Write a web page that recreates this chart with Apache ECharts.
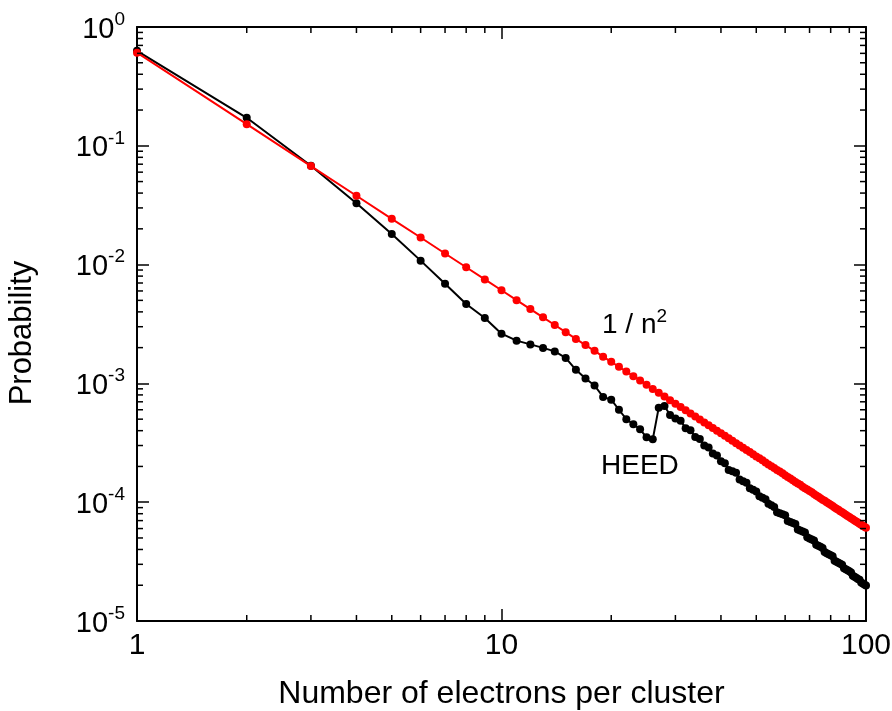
<!DOCTYPE html>
<html>
<head>
<meta charset="utf-8">
<script src="https://cdn.jsdelivr.net/npm/echarts@6/dist/echarts.min.js"></script>
<style>html,body{margin:0;padding:0;background:#fff}#c{width:892px;height:711px}</style>
</head>
<body>
<div id="c"></div>
<script>
// cluster size n
const clusterSize = [1,2,3,4,5,6,7,8,9,10,11,12,13,14,15,16,17,18,19,20,21,22,23,24,25,26,27,28,29,30,31,32,33,34,35,36,37,38,39,40,41,42,43,44,45,46,47,48,49,50,51,52,53,54,55,56,57,58,59,60,61,62,63,64,65,66,67,68,69,70,71,72,73,74,75,76,77,78,79,80,81,82,83,84,85,86,87,88,89,90,91,92,93,94,95,96,97,98,99,100];
// HEED probability
const heedProb = [0.63,0.172,0.068,0.0328,0.0181,0.0108,0.0069,0.00466,0.00355,0.00262,
  0.00229,0.00213,0.00199,0.00186,0.00164,0.0013,0.0011,0.00096,0.00077,0.00073,
  0.00060,0.00050,0.000453,0.000411,0.000352,0.000338,0.000625,0.000645,0.000542,0.000506,
  0.000486,0.000420,0.000404,0.000354,0.000340,0.000300,0.000288,0.000257,0.000247,0.000221,
  0.000213,0.000187,0.000182,0.000177,0.000155,0.000150,0.000146,0.000131,0.000127,0.000123,
  0.000112,0.000109,0.000106,9.69e-5,9.41e-5,9.13e-5,8.24e-5,8.08e-5,7.92e-5,7.76e-5,
  6.94e-5,6.81e-5,6.67e-5,6.54e-5,5.89e-5,5.78e-5,5.66e-5,5.55e-5,5.06e-5,4.96e-5,
  4.86e-5,4.76e-5,4.38e-5,4.29e-5,4.21e-5,4.12e-5,3.80e-5,3.72e-5,3.65e-5,3.58e-5,
  3.50e-5,3.22e-5,3.16e-5,3.10e-5,3.04e-5,2.98e-5,2.78e-5,2.72e-5,2.67e-5,2.62e-5,
  2.56e-5,2.40e-5,2.36e-5,2.31e-5,2.26e-5,2.22e-5,2.11e-5,2.07e-5,2.03e-5,1.99e-5];
// 1/n^2 reference
const invSquareProb = [0.608,0.152,0.0675,0.0380,0.0243,0.0169,0.0124,0.00950,0.00750,0.00608,
  0.00502,0.00422,0.00360,0.00310,0.00270,0.00237,0.00210,0.00188,0.00168,0.00152,
  0.00138,0.00126,0.00115,0.00106,0.000973,0.000899,0.000834,0.000775,0.000723,0.000675,
  0.000633,0.000594,0.000558,0.000526,0.000496,0.000469,0.000444,0.000421,0.000400,0.000380,
  0.000362,0.000345,0.000329,0.000314,0.000300,0.000287,0.000275,0.000264,0.000253,0.000243,
  0.000234,0.000225,0.000216,0.000208,0.000201,0.000194,0.000187,0.000181,0.000175,0.000169,
  0.000163,0.000158,0.000153,0.000148,0.000144,0.000140,0.000135,0.000131,0.000128,0.000124,
  0.000121,0.000117,0.000114,0.000111,0.000108,0.000105,0.000103,9.99e-5,9.74e-5,9.50e-5,
  9.27e-5,9.04e-5,8.82e-5,8.62e-5,8.41e-5,8.22e-5,8.03e-5,7.85e-5,7.67e-5,7.50e-5,
  7.34e-5,7.18e-5,7.03e-5,6.88e-5,6.74e-5,6.60e-5,6.46e-5,6.33e-5,6.20e-5,6.08e-5];
const xMinorTicks = [2,3,4,5,6,7,8,9,20,30,40,50,60,70,80,90];
const yMinorTicks = [2e-5,3e-5,4e-5,5e-5,6e-5,7e-5,8e-5,9e-5,2e-4,3e-4,4e-4,5e-4,6e-4,7e-4,8e-4,9e-4,
  2e-3,3e-3,4e-3,5e-3,6e-3,7e-3,8e-3,9e-3,0.02,0.03,0.04,0.05,0.06,0.07,0.08,0.09,0.2,0.3,0.4,0.5,0.6,0.7,0.8,0.9];
const seriesNames = ['HEED','1 / n²'];

(function(){
const FONT = 'Liberation Sans, Arial, sans-serif';
const chart = echarts.init(document.getElementById('c'), null, {renderer:'canvas'});
const pairs = (ys) => clusterSize.map((x,i)=>[x, ys[i]]);
const axisCommon = {
  type:'log', logBase:10, splitLine:{show:false},
  axisLine:{show:true, lineStyle:{color:'#000', width:2}},
  axisTick:{show:true, inside:true, length:12, lineStyle:{color:'#000', width:1.5}},
};
const option = {
  animation:false,
  backgroundColor:'#fff',
  grid:{left:137, right:26, top:27, bottom:90, containLabel:false, outerBoundsMode:'none'},
  xAxis:[
    Object.assign({}, axisCommon, {min:1, max:100, position:'bottom',
      name:'Number of electrons per cluster', nameLocation:'middle', nameGap:57,
      nameTextStyle:{fontFamily:FONT, fontSize:32, color:'#000'},
      axisLabel:{margin:10, fontFamily:FONT, fontSize:30, color:'#000',
        formatter:(v)=>String(Math.round(v))}}),
    Object.assign({}, axisCommon, {min:1, max:100, position:'top', axisLabel:{show:false}})
  ],
  yAxis:[
    Object.assign({}, axisCommon, {min:1e-5, max:1, position:'left',
      name:'Probability', nameLocation:'middle', nameGap:99,
      nameTextStyle:{fontFamily:FONT, fontSize:31, color:'#000', padding:[0,18,0,0]},
      axisLabel:{margin:12, fontFamily:FONT, color:'#000',
        formatter:(v)=>'{b|10}{s|' + Math.round(Math.log10(v)) + '}',
        rich:{b:{fontFamily:FONT, fontSize:29, color:'#000', lineHeight:34, verticalAlign:'bottom'},
              s:{fontFamily:FONT, fontSize:19, color:'#000', lineHeight:34, verticalAlign:'top'}}}}),
    Object.assign({}, axisCommon, {min:1e-5, max:1, position:'right', axisLabel:{show:false}})
  ],
  series:[
    {name:seriesNames[0], type:'line', data:pairs(heedProb), symbol:'circle', symbolSize:8,
     lineStyle:{color:'#000', width:2}, itemStyle:{color:'#000'}, z:3},
    {name:seriesNames[1], type:'line', data:pairs(invSquareProb), symbol:'circle', symbolSize:8,
     lineStyle:{color:'#ff0000', width:2}, itemStyle:{color:'#ff0000'}, z:4}
  ]
};
chart.setOption(option);

// minor ticks on all four sides, positioned through the axes' own scales
const g = [];
const x0 = chart.convertToPixel({xAxisIndex:0}, 1), x1 = chart.convertToPixel({xAxisIndex:0}, 100);
const y0 = chart.convertToPixel({yAxisIndex:0}, 1e-5), y1 = chart.convertToPixel({yAxisIndex:0}, 1);
xMinorTicks.forEach(v=>{
  const px = chart.convertToPixel({xAxisIndex:0}, v);
  g.push({type:'line', shape:{x1:px,y1:y0,x2:px,y2:y0-6}, style:{stroke:'#000', lineWidth:1.5}, z:10});
  g.push({type:'line', shape:{x1:px,y1:y1,x2:px,y2:y1+6}, style:{stroke:'#000', lineWidth:1.5}, z:10});
});
yMinorTicks.forEach(v=>{
  const py = chart.convertToPixel({yAxisIndex:0}, v);
  g.push({type:'line', shape:{x1:x0,y1:py,x2:x0+6,y2:py}, style:{stroke:'#000', lineWidth:1.5}, z:10});
  g.push({type:'line', shape:{x1:x1,y1:py,x2:x1-6,y2:py}, style:{stroke:'#000', lineWidth:1.5}, z:10});
});
// annotations
g.push({type:'text', left:602, top:307, z:20, style:{
  text:'{m|1 / n}{s|2}', fill:'#000',
  rich:{m:{fontFamily:FONT, fontSize:28, fill:'#000', lineHeight:32, verticalAlign:'bottom'},
        s:{fontFamily:FONT, fontSize:19, fill:'#000', lineHeight:32, verticalAlign:'top'}}}});
g.push({type:'text', left:601, top:452, z:20, style:{text:'HEED', fontFamily:FONT, fontSize:28, fill:'#000'}});
chart.setOption({graphic:g});
})();
</script>
</body>
</html>
